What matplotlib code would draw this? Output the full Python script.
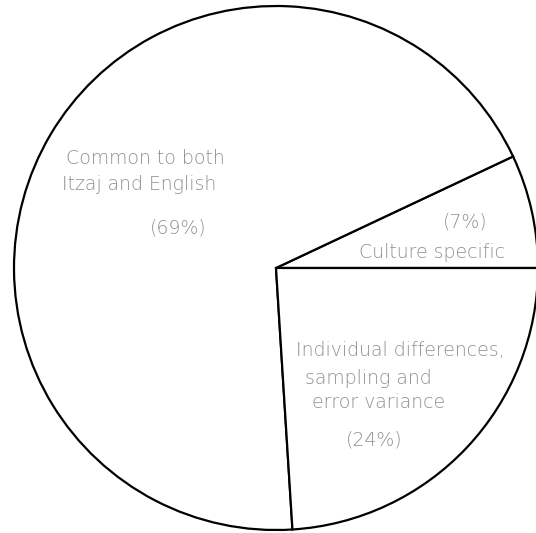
import matplotlib.pyplot as plt

# shares of variance
labels = ["Culture specific", "Common to both Itzaj and English",
          "Individual differences, sampling and error variance"]
shares = [7, 69, 24]

W, H = 536, 533
cx, cy, r = 276, 268, 262

fig = plt.figure(figsize=(W / 100, H / 100), dpi=100)
ax = fig.add_axes([0, 0, 1, 1])
ax.pie(shares, startangle=0, counterclock=True,
       colors=["white"] * 3,
       wedgeprops=dict(edgecolor="black", linewidth=1.6))
ax.set_xlim(-cx / r, (W - cx) / r)
ax.set_ylim(-(H - cy) / r, cy / r)
ax.set_aspect("equal")
ax.axis("off")


def px(x, y):
    return (x - cx) / r, (cy - y) / r


txt = dict(color="#909090", fontsize=13.6, fontweight="light",
           family="DejaVu Sans", ha="left", va="center")
for s, x, y in [
    ("Common to both", 66, 158),
    ("Itzaj and English", 62, 185),
    ("(69%)", 150, 228),
    ("(7%)", 443, 222),
    ("Culture specific", 359, 252),
    ("Individual differences,", 296, 350),
    ("sampling and", 305, 378),
    ("error variance", 312, 402),
    ("(24%)", 346, 440),
]:
    ax.text(*px(x, y), s, **txt)

fig.savefig("out.png", dpi=100, facecolor="white")
